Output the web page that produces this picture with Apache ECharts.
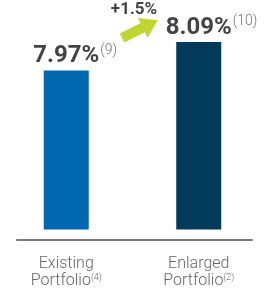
<!DOCTYPE html>
<html><head><meta charset="utf-8">
<script src="https://cdn.jsdelivr.net/npm/echarts@6/dist/echarts.min.js"></script>
<style>html,body{margin:0;padding:0;background:#fff}#c{width:265px;height:289px}</style>
</head><body><div id="c"></div>
<script>
var categories = ['Existing', 'Enlarged'];
var categoryNotes = ['(4)', '(2)'];
var values = [7.97, 8.09];
var valueNotes = ['(9)', '(10)'];
var changeLabel = '+1.5%';
var barColors = ['#0067b1', '#023a5a'];

var chart = echarts.init(document.getElementById('c'));
var FONT = 'Roboto';
chart.setOption({
  animation: false,
  grid: [
    {left: -3.5, right: -7.5, top: 11, bottom: 52},
    {left: 17, right: 13, top: 11, bottom: 49}
  ],
  xAxis: [
    {type: 'category', gridIndex: 0, data: categories,
     axisLine: {show: false}, axisTick: {show: false},
     axisLabel: {
       margin: 26, interval: 0,
       formatter: function (v, i) { return '{c|' + v + '}\n{c|Portfolio}{n|' + categoryNotes[i] + '}'; },
       rich: {
         c: {fontFamily: FONT, fontWeight: 300, fontSize: 16, color: '#666', lineHeight: 17},
         n: {fontFamily: FONT, fontWeight: 300, fontSize: 9, color: '#666', lineHeight: 17, padding: [0, 0, 6, 0]}
       }
     }},
    {type: 'category', gridIndex: 1, data: categories,
     axisLine: {show: true, lineStyle: {color: '#7a7a7a', width: 2}},
     axisTick: {show: false}, axisLabel: {show: false}}
  ],
  yAxis: [
    {type: 'value', gridIndex: 0, min: 7.3, max: 8.22, show: false, splitLine: {show: false}},
    {type: 'value', gridIndex: 1, show: false, splitLine: {show: false}}
  ],
  series: [{
    type: 'bar', xAxisIndex: 0, yAxisIndex: 0, barWidth: 45,
    data: values.map(function (v, i) {
      return {value: v, itemStyle: {color: barColors[i]}};
    }),
    label: {
      show: true, position: 'top', distance: 2,
      formatter: function (p) {
        var n = valueNotes[p.dataIndex];
        return '{p|' + n + '}{v|' + p.value.toFixed(2) + '%}{s|' + n + '}';
      },
      rich: {
        v: {fontFamily: FONT, fontWeight: 'bold', fontSize: 24, color: '#444', lineHeight: 24},
        s: {fontFamily: FONT, fontWeight: 300, fontSize: 14, color: '#777', lineHeight: 24, padding: [0, 0, 12, 1]},
        p: {fontFamily: FONT, fontWeight: 300, fontSize: 14, color: 'transparent', lineHeight: 24, padding: [0, 1, 12, 0]}
      }
    }
  }],
  graphic: [
    {type: 'polygon', x: 122, y: 38, rotation: 0.46,
     shape: {points: [[0, -5], [23, -5], [23, -11], [40, 0], [23, 11], [23, 5], [0, 5]]},
     style: {fill: '#c0d530'}},
    {type: 'text', x: 134, y: 10, style: {text: changeLabel, fontFamily: FONT, fontWeight: 'bold', fontSize: 17, fill: '#444', align: 'center', verticalAlign: 'middle'}}
  ]
});
</script></body></html>
